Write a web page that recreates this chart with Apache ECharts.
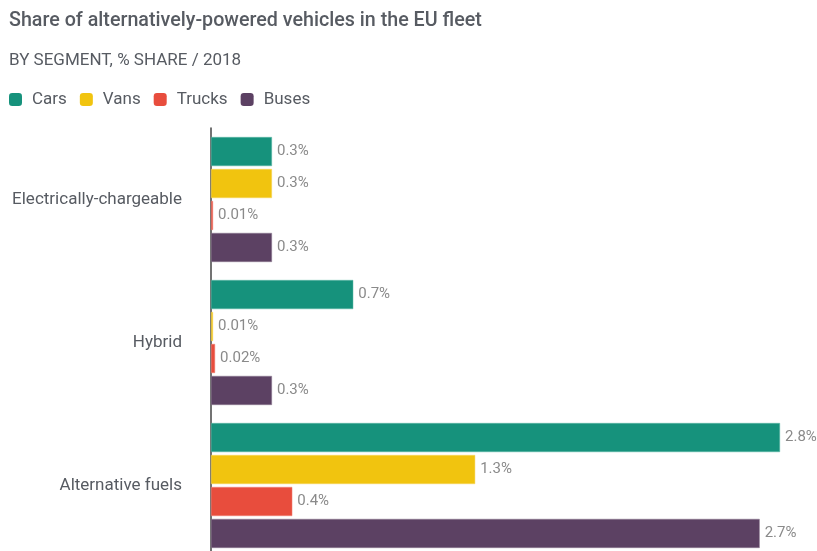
<!DOCTYPE html>
<html>
<head>
<meta charset="utf-8">
<script src="https://cdn.jsdelivr.net/npm/echarts@6/dist/echarts.min.js"></script>
<style>
  html, body { margin: 0; padding: 0; background: #fff; overflow: hidden; }
  /* the last group runs slightly past the bottom edge of the view */
  #chart { width: 817px; height: 557px; }
</style>
</head>
<body>
<div id="chart"></div>
<script>
// Fuel-type groups (rows) and vehicle segments (series)
const categories = ['Electrically-chargeable', 'Hybrid', 'Alternative fuels'];
const cars   = [0.3, 0.7, 2.8];
const vans   = [0.3, 0.01, 1.3];
const trucks = [0.01, 0.02, 0.4];
const buses  = [0.3, 0.3, 2.7];

const segmentNames  = ['Cars', 'Vans', 'Trucks', 'Buses'];
const segmentData   = [cars, vans, trucks, buses];
const segmentColors = ['#16927c', '#f1c40f', '#e84d3d', '#5c4163'];
const segmentEdges  = ['#5fb8a6', '#f6d75e', '#f08479', '#8f7d93'];

const FONT = 'Roboto, "Noto Sans", sans-serif';
const TEXT = '#575b62';

const chart = echarts.init(document.getElementById('chart'), null, { renderer: 'canvas' });

chart.setOption({
  animation: false,
  backgroundColor: '#ffffff',
  title: [
    {
      text: 'Share of alternatively-powered vehicles in the EU fleet',
      left: 9,
      top: 11,
      padding: 0,
      textStyle: { fontFamily: FONT, fontSize: 19.7, fontWeight: 500, color: TEXT }
    },
    {
      text: 'BY SEGMENT, % SHARE / 2018',
      left: 9,
      top: 52,
      padding: 0,
      textStyle: { fontFamily: FONT, fontSize: 17, fontWeight: 400, color: TEXT }
    }
  ],
  legend: {
    left: 9,
    top: 91,
    padding: 0,
    icon: 'roundRect',
    itemWidth: 13,
    itemHeight: 13,
    itemGap: 13,
    itemStyle: { borderWidth: 0 },
    textStyle: { fontFamily: FONT, fontSize: 17, color: TEXT, padding: [0, 0, 0, 5] },
    data: segmentNames
  },
  grid: { left: 211, top: 128, right: 37, bottom: 0, containLabel: false },
  xAxis: {
    type: 'value',
    min: 0,
    max: 2.8,
    show: false
  },
  yAxis: {
    type: 'category',
    data: categories,
    inverse: true,
    axisLine: { show: true, lineStyle: { color: '#444', width: 1.5 } },
    axisTick: { show: false },
    axisLabel: { fontFamily: FONT, fontSize: 17, color: TEXT, margin: 29 },
    splitLine: { show: false }
  },
  series: segmentNames.map((name, i) => ({
    name,
    type: 'bar',
    data: segmentData[i],
    barGap: '10%',
    barCategoryGap: '12.6%',
    itemStyle: {
      color: segmentColors[i],
      borderColor: segmentEdges[i],
      borderWidth: 0.5
    },
    label: {
      show: true,
      position: 'right',
      distance: 5,
      fontFamily: FONT,
      fontSize: 15,
      color: '#8a8a8a',
      formatter: p => p.value + '%'
    }
  }))
});
</script>
</body>
</html>
